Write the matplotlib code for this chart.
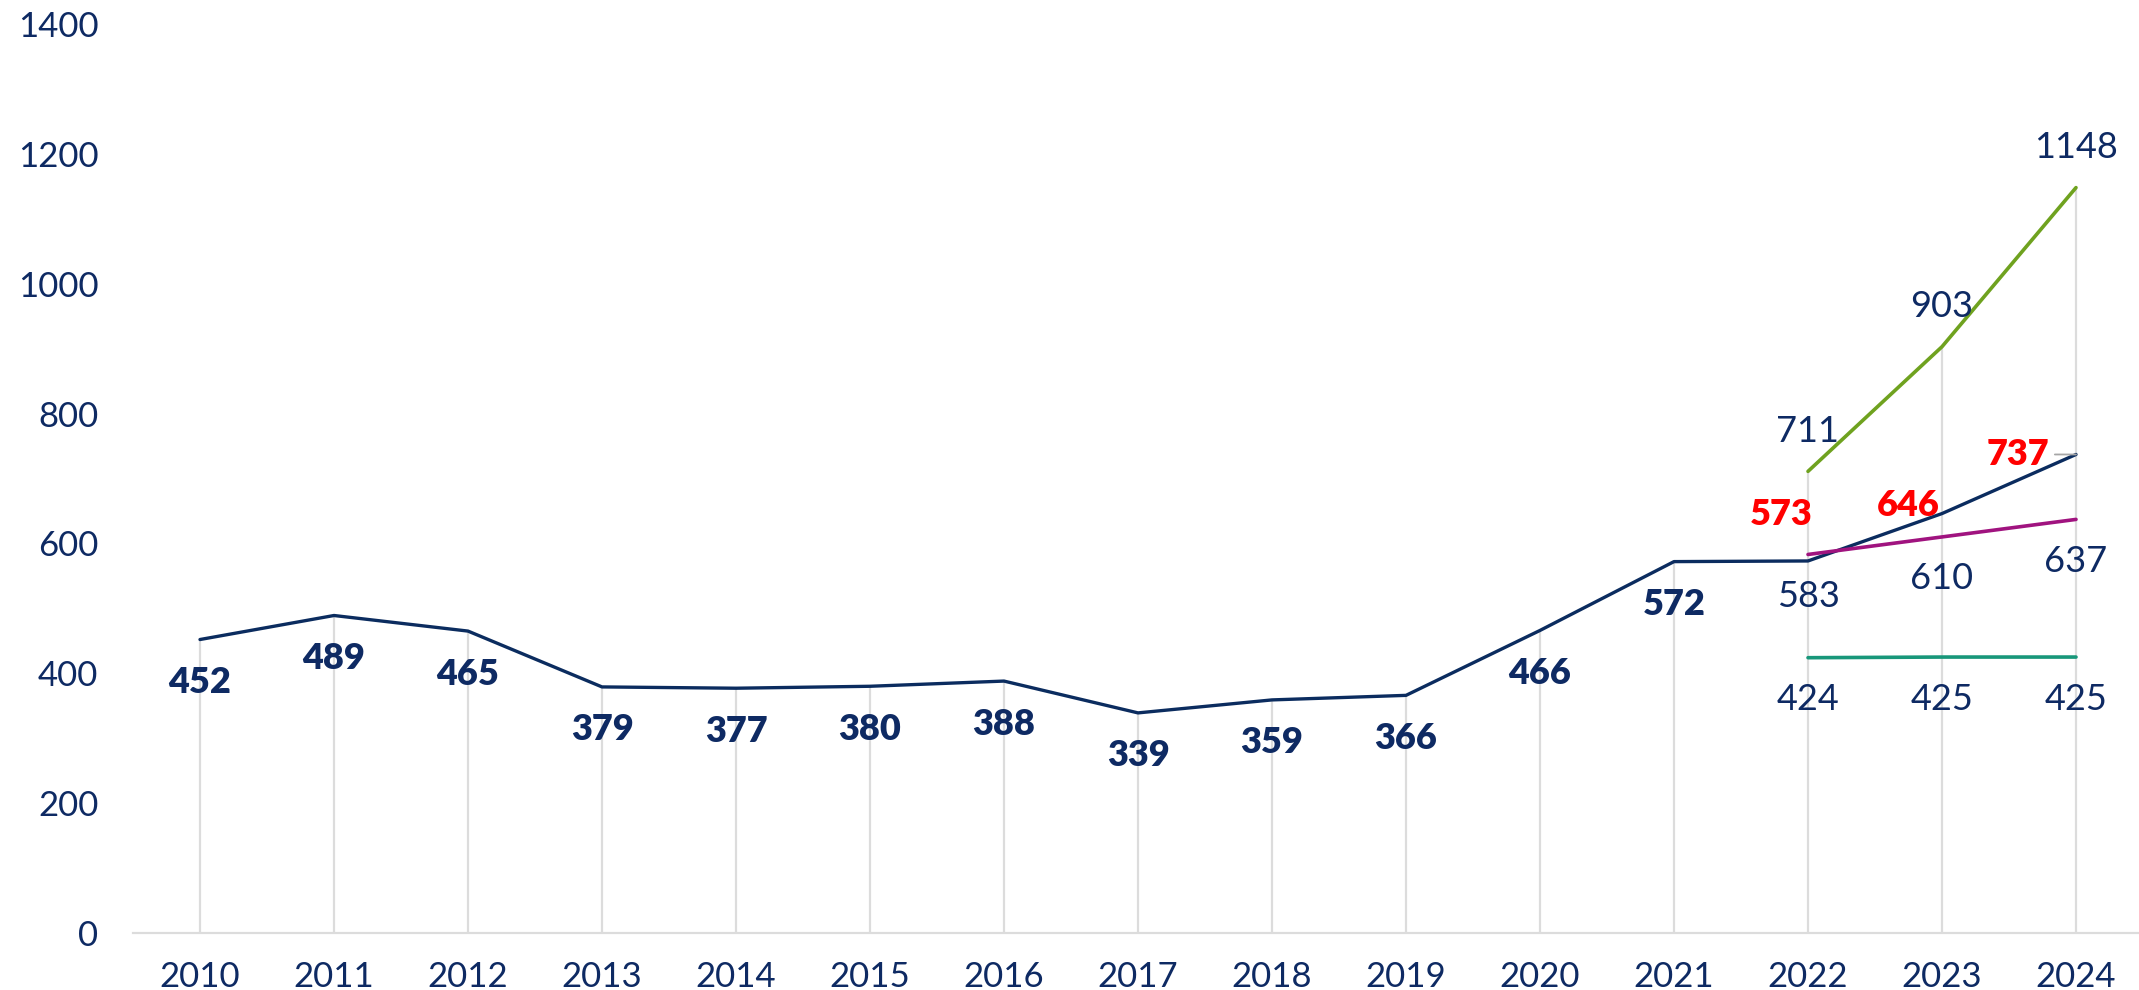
import numpy as np
import matplotlib
matplotlib.use("Agg")
import matplotlib.pyplot as plt

# ---- data ----
years = [str(y) for y in range(2010, 2025)]
actual = [452, 489, 465, 379, 377, 380, 388, 339, 359, 366, 466, 572, 573, 646, 737]
high_scenario = [711, 903, 1148]   # 2022-2024
mid_scenario = [583, 610, 637]     # 2022-2024
low_scenario = [424, 425, 425]     # 2022-2024
y_ticks = [0, 200, 400, 600, 800, 1000, 1200, 1400]

# ---- style ----
NAVY_LINE = "#0B2C5F"
NAVY_TEXT = "#0E2A63"
GREEN = "#6FA21F"
PURPLE = "#A0137F"
TEAL = "#18977A"
RED = "#FF0000"
GRID = "#DCDCDC"
FONT = ["Lato", "DejaVu Sans"]

plt.rcParams["font.family"] = FONT

fig = plt.figure(figsize=(21.39, 9.90), dpi=100)
ax = fig.add_axes([133 / 2139, 57 / 990, (2143 - 133) / 2139, 909 / 990])

x = np.arange(len(years))
xf = x[-3:]

# drop lines from the axis up to the highest value in each year
top = np.array(actual, dtype=float)
top[-3:] = np.fmax(top[-3:], high_scenario)
ax.vlines(x, 0, top, color=GRID, lw=1.6, zorder=1)

ax.plot(x, actual, color=NAVY_LINE, lw=2.4, zorder=3, solid_capstyle="round")
ax.plot(xf, high_scenario, color=GREEN, lw=2.6, zorder=3, solid_capstyle="round")
ax.plot(xf, mid_scenario, color=PURPLE, lw=2.6, zorder=3, solid_capstyle="round")
ax.plot(xf, low_scenario, color=TEAL, lw=2.6, zorder=3, solid_capstyle="round")

lab_size = 26

# historical values, bold, below the line
for xi, v in zip(x[:-3], actual[:-3]):
    ax.annotate(str(v), (xi, v), xytext=(0, -43), textcoords="offset pixels",
                ha="center", va="center", fontsize=lab_size, fontweight="heavy",
                color=NAVY_TEXT, zorder=4)

# recent values in red
red_offsets = [(-27, 46), (-34, 8), (-58, 0)]
for i, (xi, v) in enumerate(zip(xf, actual[-3:])):
    dx, dy = red_offsets[i]
    props = None
    if i == 2:
        props = dict(arrowstyle="-", color="#A6A6A6", lw=1.3,
                     shrinkA=2, shrinkB=0)
    ax.annotate(str(v), (xi, v), xytext=(dx, dy), textcoords="offset pixels",
                ha="center", va="center", fontsize=lab_size, fontweight="heavy",
                color=RED, zorder=4, arrowprops=props)

# scenario labels
for xi, v in zip(xf, high_scenario):
    ax.annotate(str(v), (xi, v), xytext=(0, 40), textcoords="offset pixels",
                ha="center", va="center", fontsize=lab_size, color=NAVY_TEXT,
                zorder=4)
for series in (mid_scenario, low_scenario):
    for xi, v in zip(xf, series):
        ax.annotate(str(v), (xi, v), xytext=(0, -42), textcoords="offset pixels",
                    ha="center", va="center", fontsize=lab_size, color=NAVY_TEXT,
                    zorder=4)

# axes
ax.set_xlim(-0.5, len(years) - 0.5)
ax.set_ylim(0, 1400)
ax.set_xticks(x)
ax.set_xticklabels(years)
ax.set_yticks(y_ticks)
ax.set_yticklabels([str(t) for t in y_ticks])
ax.tick_params(axis="both", length=0, labelsize=25, colors=NAVY_TEXT)
ax.tick_params(axis="x", pad=20)
ax.tick_params(axis="y", pad=25)
for s in ("top", "right", "left"):
    ax.spines[s].set_visible(False)
ax.spines["bottom"].set_color(GRID)
ax.spines["bottom"].set_linewidth(1.6)
ax.spines["bottom"].set_zorder(2)
ax.set_facecolor("none")

fig.savefig("out.png", dpi=100, facecolor="white")
